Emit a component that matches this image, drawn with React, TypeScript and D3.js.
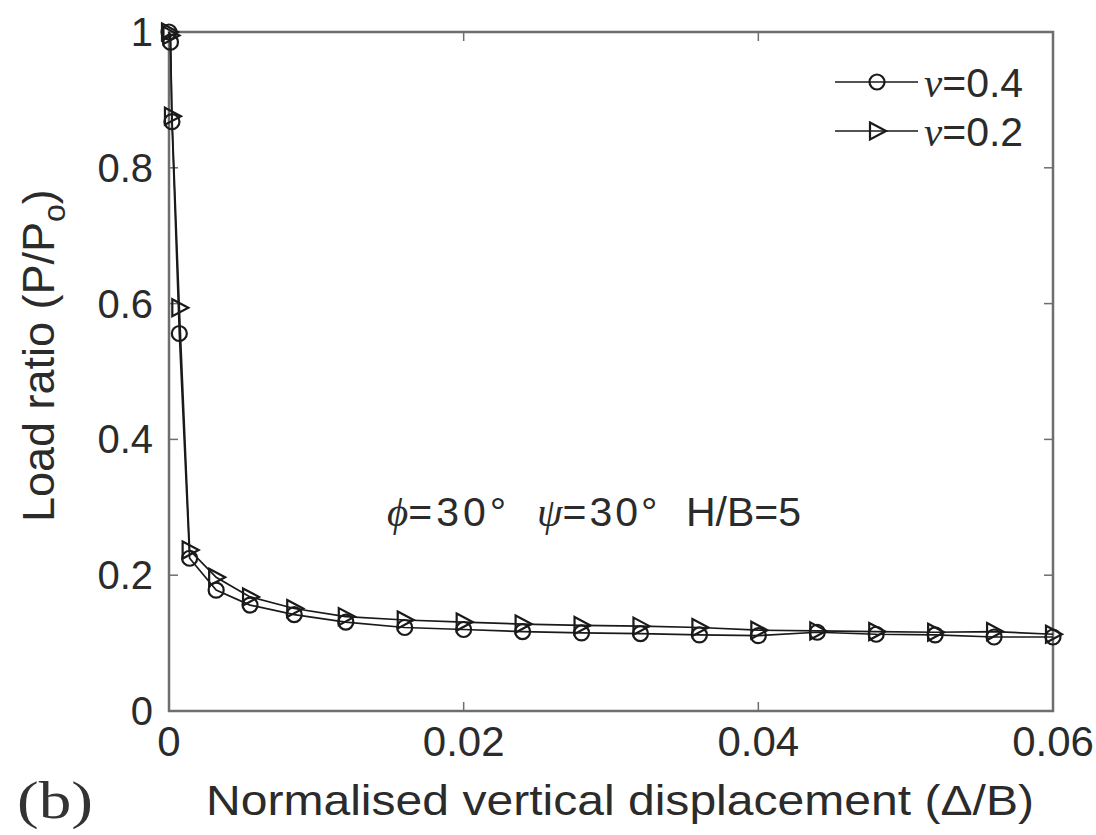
import React, { useEffect, useRef } from "react";
import * as d3 from "d3";

const settings = {
  width: 1096,
  height: 835,
  margin: { top: 32, right: 43, bottom: 124, left: 169 },
};

// normalised vertical displacement (Delta/B)
const displacement = [
  0, 0.0001, 0.0002, 0.0007, 0.0014, 0.0032, 0.0055, 0.0085, 0.012, 0.016,
  0.02, 0.024, 0.028, 0.032, 0.036, 0.04, 0.044, 0.048, 0.052, 0.056, 0.06,
];
// load ratio P/Po, nu = 0.4 (circles)
const loadNu04 = [
  1.0, 0.985, 0.868, 0.556, 0.225, 0.178, 0.156, 0.142, 0.131, 0.123, 0.12,
  0.117, 0.115, 0.114, 0.112, 0.111, 0.116, 0.113, 0.112, 0.109, 0.109,
];
// load ratio P/Po, nu = 0.2 (triangles)
const loadNu02 = [
  1.0, 0.995, 0.876, 0.594, 0.237, 0.197, 0.168, 0.151, 0.139, 0.134, 0.131,
  0.128, 0.126, 0.125, 0.123, 0.119, 0.118, 0.117, 0.116, 0.117, 0.113,
];

const xTicks = [0, 0.02, 0.04, 0.06];
const xTickLabels = ["0", "0.02", "0.04", "0.06"];
const yTicks = [0, 0.2, 0.4, 0.6, 0.8, 1];
const yTickLabels = ["0", "0.2", "0.4", "0.6", "0.8", "1"];
const legendLabels = ["=0.4", "=0.2"];

const axisColor = "#6e6e6e";
const textColor = "#2b2b2b";
const sans = "'Liberation Sans', Arial, Helvetica, sans-serif";
const serif = "'Liberation Serif', 'Times New Roman', serif";
const fontSize = 41;

function circleMarker(g: any, x: number, y: number) {
  g.append("circle")
    .attr("cx", x)
    .attr("cy", y)
    .attr("r", 7.5)
    .attr("fill", "none")
    .attr("stroke", "#1a1a1a")
    .attr("stroke-width", 2.2);
}

function triMarker(g: any, x: number, y: number) {
  g.append("path")
    .attr("d", `M${x - 7},${y - 8.5}L${x + 9},${y}L${x - 7},${y + 8.5}Z`)
    .attr("fill", "none")
    .attr("stroke", "#1a1a1a")
    .attr("stroke-width", 2.2);
}

export default function App() {
  const svgRef = useRef(null);
  useEffect(() => {
    const svg = d3.select(svgRef.current);
    svg.selectAll("*").remove();
    const { width, height, margin } = settings;
    const x0 = margin.left;
    const x1 = width - margin.right;
    const y0 = height - margin.bottom;
    const y1 = margin.top;

    const x = d3.scaleLinear().domain([0, 0.06]).range([x0, x1]);
    const y = d3.scaleLinear().domain([0, 1]).range([y0, y1]);

    svg.append("rect").attr("width", width).attr("height", height).attr("fill", "#fff");

    // ticks (inside, mirrored)
    const ticks = svg.append("g").attr("stroke", axisColor).attr("stroke-width", 1.5);
    xTicks.forEach((t) => {
      ticks.append("line").attr("x1", x(t)).attr("x2", x(t)).attr("y1", y0).attr("y2", y0 - 9);
      ticks.append("line").attr("x1", x(t)).attr("x2", x(t)).attr("y1", y1).attr("y2", y1 + 9);
    });
    yTicks.forEach((t) => {
      ticks.append("line").attr("x1", x0).attr("x2", x0 + 9).attr("y1", y(t)).attr("y2", y(t));
      ticks.append("line").attr("x1", x1).attr("x2", x1 - 9).attr("y1", y(t)).attr("y2", y(t));
    });

    // box
    svg
      .append("rect")
      .attr("x", x0)
      .attr("y", y1)
      .attr("width", x1 - x0)
      .attr("height", y0 - y1)
      .attr("fill", "none")
      .attr("stroke", axisColor)
      .attr("stroke-width", 2.5);

    // tick labels
    xTicks.forEach((t, i) => {
      svg
        .append("text")
        .attr("x", x(t))
        .attr("y", y0 + 45)
        .attr("text-anchor", "middle")
        .attr("font-family", sans)
        .attr("font-size", fontSize + 1)
        .attr("fill", textColor)
        .text(xTickLabels[i]);
    });
    yTicks.forEach((t, i) => {
      svg
        .append("text")
        .attr("x", x0 - 16)
        .attr("y", y(t) + 14)
        .attr("text-anchor", "end")
        .attr("font-family", sans)
        .attr("font-size", fontSize - 1)
        .attr("fill", textColor)
        .text(yTickLabels[i]);
    });

    // data lines
    const line = d3
      .line<number>()
      .x((_, i) => x(displacement[i]))
      .y((d) => y(d));
    const series = [
      { values: loadNu04, marker: circleMarker },
      { values: loadNu02, marker: triMarker },
    ];
    series.forEach((s) => {
      svg
        .append("path")
        .attr("d", line(s.values) || "")
        .attr("fill", "none")
        .attr("stroke", "#1a1a1a")
        .attr("stroke-width", 1.7);
    });
    series.forEach((s) => {
      const g = svg.append("g");
      s.values.forEach((v, i) => s.marker(g, x(displacement[i]), y(v)));
    });

    // legend
    series.forEach((s, i) => {
      const ly = 82 + i * 49;
      const g = svg.append("g");
      g.append("line")
        .attr("x1", 835)
        .attr("x2", 918)
        .attr("y1", ly)
        .attr("y2", ly)
        .attr("stroke", "#1a1a1a")
        .attr("stroke-width", 1.7);
      s.marker(g, 877, ly);
      const t = g
        .append("text")
        .attr("x", 924)
        .attr("y", ly + 15)
        .attr("font-family", sans)
        .attr("font-size", fontSize)
        .attr("fill", textColor);
      t.append("tspan").attr("font-family", serif).attr("font-style", "italic").text("ν");
      t.append("tspan").text(legendLabels[i]);
    });

    // annotation
    const ann = svg
      .append("text")
      .attr("x", 387)
      .attr("y", 526)
      .attr("font-family", sans)
      .attr("font-size", fontSize)
      .attr("fill", textColor);
    ann.append("tspan").attr("font-family", serif).attr("font-style", "italic").text("ϕ");
    ann.append("tspan").attr("textLength", 98).text("=30°");
    ann.append("tspan").attr("x", 537).attr("font-family", serif).attr("font-style", "italic").text("ψ");
    ann.append("tspan").attr("textLength", 95).text("=30°");
    ann.append("tspan").attr("x", 686).text("H/B=5");

    // axis labels
    svg
      .append("text")
      .attr("x", 206)
      .attr("y", 815)
      .attr("textLength", 828)
      .attr("lengthAdjust", "spacingAndGlyphs")
      .attr("font-family", sans)
      .attr("font-size", 43)
      .attr("fill", textColor)
      .text("Normalised vertical displacement (Δ/B)");

    const yl = svg
      .append("text")
      .attr("transform", `translate(54,522) rotate(-90)`)
      .attr("font-family", sans)
      .attr("font-size", 44)
      .attr("fill", textColor);
    yl.append("tspan").attr("textLength", 300).attr("lengthAdjust", "spacingAndGlyphs").text("Load ratio (P/P");
    yl.append("tspan").attr("font-size", 32).attr("dy", 11).text("o");
    yl.append("tspan").attr("dy", -11).text(")");

    svg
      .append("text")
      .attr("x", 17)
      .attr("y", 818)
      .attr("textLength", 76)
      .attr("lengthAdjust", "spacingAndGlyphs")
      .attr("font-family", serif)
      .attr("font-size", 52)
      .attr("fill", "#333")
      .text("(b)");
  }, []);

  return (
    <svg
      style={{ position: "absolute", left: 0, top: 0, width: settings.width, height: settings.height }}
      width={settings.width}
      height={settings.height}
      ref={svgRef}
    ></svg>
  );
}
